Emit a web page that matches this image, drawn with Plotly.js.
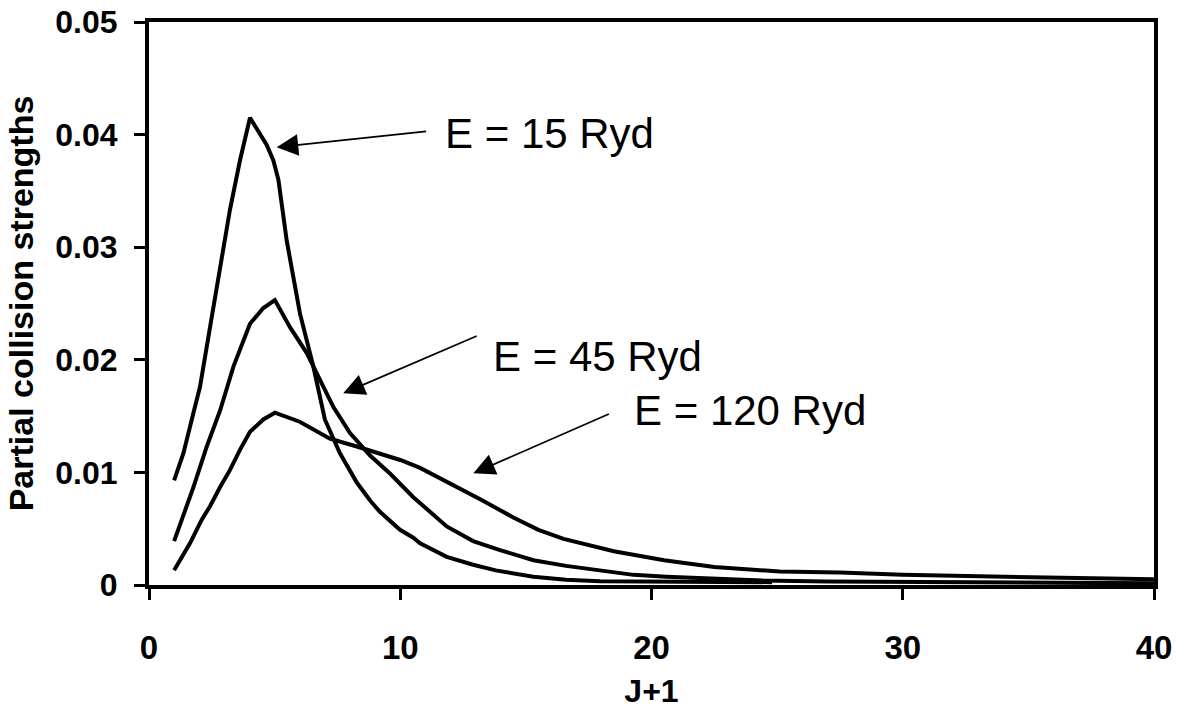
<!DOCTYPE html>
<html>
<head>
<meta charset="utf-8">
<script src="https://cdn.plot.ly/plotly-3.0.1.min.js"></script>
<style>
html,body{margin:0;padding:0;background:#fff;}
#chart{width:1185px;height:709px;}
</style>
</head>
<body>
<div id="chart"></div>
<script>
// E = 15 Ryd
const x15 = [1.0, 1.37, 1.77, 2.03, 2.43, 2.83, 3.22, 3.62, 4.02, 4.68, 4.95, 5.15, 5.48, 5.74, 6.01, 6.54, 7.0, 7.6, 8.27, 8.8, 9.19, 9.99, 10.52, 10.79, 11.85, 12.9, 13.8, 15.3, 16.6, 17.95, 19.5, 21.1, 23.0, 24.8];
const y15 = [0.0093, 0.0117, 0.0153, 0.0176, 0.0229, 0.0283, 0.0333, 0.0377, 0.0415, 0.0391, 0.0377, 0.0360, 0.0306, 0.0274, 0.0241, 0.0194, 0.0147, 0.0117, 0.0091, 0.0075, 0.0065, 0.0049, 0.0042, 0.0037, 0.0025, 0.0018, 0.0013, 0.00074, 0.00046, 0.00034, 0.0003, 0.00028, 0.00026, 0.00025];
// E = 45 Ryd
const x45 = [1.0, 1.77, 2.3, 2.83, 3.36, 4.02, 4.55, 5.01, 5.61, 6.28, 6.81, 7.34, 8.0, 8.8, 9.59, 10.52, 11.85, 12.9, 13.97, 15.3, 16.6, 17.95, 19.28, 20.6, 21.93, 24.4, 27, 30, 35, 40];
const y45 = [0.0039, 0.0087, 0.0123, 0.0155, 0.0194, 0.0232, 0.0246, 0.0253, 0.0229, 0.0206, 0.0182, 0.0158, 0.0135, 0.0115, 0.0099, 0.0078, 0.0052, 0.0039, 0.0031, 0.0022, 0.0017, 0.0013, 0.0009, 0.00074, 0.0006, 0.0004, 0.0003, 0.00025, 0.0002, 0.00015];
// E = 120 Ryd
const x120 = [1.0, 1.63, 2.1, 2.43, 2.83, 3.22, 3.62, 4.02, 4.55, 5.01, 6.0, 7.2, 8.27, 9.19, 10.0, 10.79, 11.85, 12.5, 13.2, 14.5, 15.5, 16.5, 18.5, 20.5, 22.5, 25.1, 27.5, 30, 35, 40];
const y120 = [0.0013, 0.0037, 0.0058, 0.0070, 0.0087, 0.0102, 0.0120, 0.0136, 0.0147, 0.0153, 0.0145, 0.0130, 0.0123, 0.0117, 0.0111, 0.0104, 0.0092, 0.0084, 0.0076, 0.0060, 0.0049, 0.0041, 0.0030, 0.0022, 0.0016, 0.0012, 0.0011, 0.0009, 0.0007, 0.0005];

const labels = ['E = 15 Ryd', 'E = 45 Ryd', 'E = 120 Ryd'];
const labelPos = [[11.70, 0.04014], [13.61, 0.02025], [19.22, 0.01554]];
const arrowTips = [[5.08, 0.03887], [7.73, 0.01702], [12.91, 0.00992]];
const arrowTails = [[151, -16], [135, -58], [137, -60]];

const FONT = 'Arial, "Liberation Sans", sans-serif';
const line = {color: '#000', width: 4};
const traces = [
  {x: x15, y: y15, mode: 'lines', line: line, name: labels[0]},
  {x: x45, y: y45, mode: 'lines', line: line, name: labels[1]},
  {x: x120, y: y120, mode: 'lines', line: line, name: labels[2]}
];

const annotations = [];
for (let i = 0; i < 3; i++) {
  annotations.push({
    x: labelPos[i][0], y: labelPos[i][1], xref: 'x', yref: 'y',
    text: labels[i], showarrow: false, xanchor: 'left', yanchor: 'middle',
    font: {family: FONT, size: 42, color: '#000'}
  });
  annotations.push({
    x: arrowTips[i][0], y: arrowTips[i][1], xref: 'x', yref: 'y',
    ax: arrowTails[i][0], ay: arrowTails[i][1],
    text: '', showarrow: true, arrowhead: 2, arrowsize: 2.4, arrowwidth: 1.8,
    arrowcolor: '#000', standoff: 0
  });
}

const layout = {
  width: 1185, height: 709,
  margin: {l: 149, r: 31, t: 22, b: 124},
  paper_bgcolor: '#fff', plot_bgcolor: '#fff',
  showlegend: false,
  font: {family: FONT, color: '#000'},
  xaxis: {
    range: [0, 40], tickvals: [0, 10, 20, 30, 40], ticktext: ['0', '10', '20', '30', '40'],
    showgrid: false, zeroline: false,
    showline: true, linecolor: '#000', linewidth: 4, mirror: true,
    ticks: 'outside', ticklen: 11, tickwidth: 3, tickcolor: '#000',
    ticklabelstandoff: 19,
    tickfont: {family: FONT, size: 33, color: '#000', weight: 'bold'},
    title: {text: '<b>J+1</b>', font: {family: FONT, size: 32, color: '#000'}, standoff: 16}
  },
  yaxis: {
    range: [0, 0.05], tickvals: [0, 0.01, 0.02, 0.03, 0.04, 0.05],
    ticktext: ['0', '0.01', '0.02', '0.03', '0.04', '0.05'],
    showgrid: false, zeroline: false,
    showline: true, linecolor: '#000', linewidth: 4, mirror: true,
    ticks: 'outside', ticklen: 11, tickwidth: 3, tickcolor: '#000',
    ticklabelstandoff: 10,
    tickfont: {family: FONT, size: 32, color: '#000', weight: 'bold'},
    title: {text: '<b>Partial collision strengths</b>', font: {family: FONT, size: 34, color: '#000'}, standoff: 12}
  },
  annotations: annotations
};

Plotly.newPlot('chart', traces, layout, {displayModeBar: false, staticPlot: true});
</script>
</body>
</html>
